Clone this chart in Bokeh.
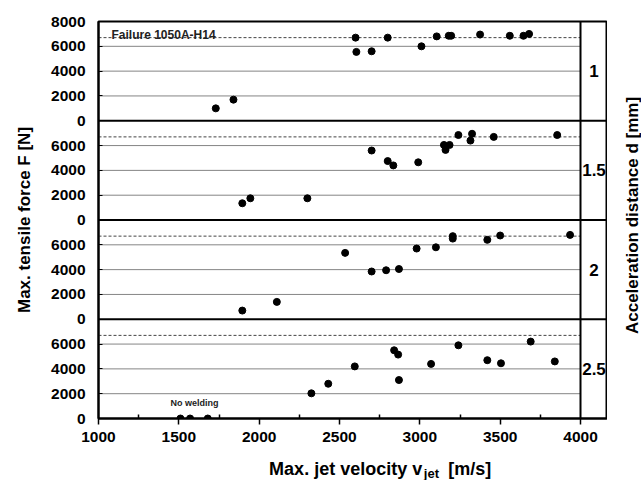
import math
from bokeh.plotting import figure
from bokeh.layouts import column, row
from bokeh.models import (ColumnDataSource, FixedTicker, Range1d, Span, Label)
from bokeh.core.properties import value
from bokeh.embed import file_html
from bokeh.resources import INLINE

# ---------------- data ----------------
distances = ["1", "1.5", "2", "2.5"]          # acceleration distance d [mm], top to bottom
panel_offsets = [24000, 16000, 8000, 0]        # stacking of panels on one axis
panel_span = 8000

v_d1 = [1730, 1840, 2600, 2605, 2700, 2800, 3010, 3105, 3180, 3195, 3375, 3560, 3645, 3680]
F_d1 = [1000, 1700, 6700, 5550, 5600, 6700, 6000, 6800, 6850, 6850, 6950, 6850, 6850, 7000]

v_d15 = [1895, 1945, 2300, 2700, 2800, 2835, 2990, 3150, 3160, 3185, 3240, 3315, 3325, 3460, 3855]
F_d15 = [1350, 1750, 1750, 5600, 4750, 4400, 4650, 6050, 5650, 6050, 6850, 6400, 6950, 6700, 6850]

v_d2 = [1895, 2110, 2535, 2700, 2790, 2870, 2980, 3100, 3205, 3205, 3420, 3500, 3935]
F_d2 = [700, 1400, 5350, 3850, 3950, 4050, 5700, 5800, 6700, 6500, 6400, 6750, 6800]

v_d25 = [1510, 1570, 1680, 2325, 2430, 2595, 2840, 2865, 2870, 3070, 3240, 3420, 3505, 3690, 3840]
F_d25 = [0, 0, 0, 2030, 2800, 4200, 5500, 5150, 3100, 4400, 5900, 4700, 4450, 6200, 4600]

failure_F = 6700                 # Failure 1050A-H14
x_ticks = [1000, 1500, 2000, 2500, 3000, 3500, 4000]
x_minor = [1250, 1750, 2250, 2750, 3250, 3750]
y_panel_ticks = [0, 2000, 4000, 6000]
grid_vals = [2000, 4000, 6000]

series_v = [v_d1, v_d15, v_d2, v_d25]
series_F = [F_d1, F_d15, F_d2, F_d25]

x_title_parts = ["Max. jet velocity v", "jet", "[m/s]"]
y_title = "Max. tensile force F [N]"
y2_title = "Acceleration distance d [mm]"

# ---------------- main figure ----------------
FONT = "Liberation Sans"
x_min, x_max = 1000, 4000
strip_end = 4168

p = figure(width=607, height=448, output_backend="svg", toolbar_location=None,
           x_range=Range1d(x_min, strip_end), y_range=Range1d(0, 4 * panel_span),
           min_border_left=98, min_border_right=0, min_border_top=21, min_border_bottom=30)
p.title.visible = False
p.background_fill_color = "white"
p.border_fill_color = "white"
p.outline_line_color = "black"
p.outline_line_width = 2
p.xgrid.grid_line_color = None
p.ygrid.grid_line_color = None

# x axis
p.xaxis.ticker = FixedTicker(ticks=x_ticks, minor_ticks=x_minor)
p.xaxis.axis_line_width = 2
p.xaxis.major_tick_out = 6
p.xaxis.major_tick_in = 0
p.xaxis.major_tick_line_width = 1.5
p.xaxis.minor_tick_in = 4
p.xaxis.minor_tick_out = 0
p.xaxis.minor_tick_line_width = 1.5
p.xaxis.major_label_standoff = 7
p.xaxis.major_label_text_font = FONT
p.xaxis.major_label_text_font_style = "bold"
p.xaxis.major_label_text_font_size = "15.5px"
p.xaxis.major_label_text_color = "black"

# y axis (stacked panels)
y_ticks = []
overrides = {}
for off in panel_offsets:
    for tv in y_panel_ticks:
        y_ticks.append(off + tv)
        overrides[off + tv] = str(tv)
y_ticks.append(4 * panel_span)
overrides[4 * panel_span] = str(panel_span)
p.yaxis.ticker = FixedTicker(ticks=y_ticks, minor_ticks=[])
p.yaxis.major_label_overrides = overrides
p.yaxis.axis_line_width = 2
p.yaxis.major_tick_in = 4
p.yaxis.major_tick_out = 0
p.yaxis.major_label_standoff = 13
p.yaxis.major_label_text_font = FONT
p.yaxis.major_label_text_font_style = "bold"
p.yaxis.major_label_text_font_size = "15.5px"
p.yaxis.major_label_text_color = "black"
p.yaxis.axis_label = y_title
p.yaxis.axis_label_text_font = FONT
p.yaxis.axis_label_text_font_style = "bold"
p.yaxis.axis_label_text_font_size = "17px"
p.yaxis.axis_label_text_color = "black"
p.yaxis.axis_label_standoff = 14

# gridlines, failure lines, panel borders
gx0, gx1, gy, fx0, fx1, fy = [], [], [], [], [], []
for off in panel_offsets:
    for g in grid_vals:
        gx0.append(x_min); gx1.append(x_max); gy.append(off + g)
    fx0.append(x_min); fx1.append(x_max); fy.append(off + failure_F)
p.segment(x0=gx0, x1=gx1, y0=gy, y1=gy, line_color="#858585", line_width=1)
p.segment(x0=fx0, x1=fx1, y0=fy, y1=fy, line_color="#444444", line_width=1, line_dash="3 2")

for off in panel_offsets[:-1]:
    p.add_layout(Span(location=off, dimension="width", line_color="black", line_width=2))
p.add_layout(Span(location=x_max, dimension="height", line_color="black", line_width=2))

# data points
for off, vs, Fs in zip(panel_offsets, series_v, series_F):
    src = ColumnDataSource(dict(x=vs, y=[f + off for f in Fs]))
    p.scatter("x", "y", source=src, size=7, fill_color="black", line_color="black")

# strip labels (acceleration distance)
strip_src = ColumnDataSource(dict(x=[(x_max + strip_end) / 2] * 4,
                                  y=[off + panel_span / 2 for off in panel_offsets],
                                  t=distances))
p.text("x", "y", text="t", source=strip_src, text_align="center", text_baseline="middle",
       text_font=value(FONT), text_font_style="bold", text_font_size="17px", text_color="black")

# annotations inside plot
p.add_layout(Label(x=1081, y=panel_offsets[0] + 6890, text="Failure 1050A-H14",
                   text_font=FONT, text_font_style="bold", text_font_size="12px",
                   text_baseline="alphabetic", text_align="left", text_color="#222222"))
p.add_layout(Label(x=1597, y=panel_offsets[3] + 1243, text="No welding",
                   text_font=FONT, text_font_style="bold", text_font_size="9px",
                   text_baseline="middle", text_align="center", text_color="#222222"))


def title_strip(w, h):
    f = figure(width=w, height=h, output_backend="svg", toolbar_location=None,
               x_range=Range1d(0, w), y_range=Range1d(0, h), title=None,
               x_axis_location=None, y_axis_location=None,
               min_border=0, min_border_left=0, min_border_right=0,
               min_border_top=0, min_border_bottom=0)
    f.grid.visible = False
    f.outline_line_color = None
    return f


# ---------------- x-axis title strip (with subscript) ----------------
t = title_strip(607, 32)
t.text(x=[386], y=[12], text=[x_title_parts[0]], text_align="right", text_baseline="alphabetic",
       text_font=value(FONT), text_font_style="bold", text_font_size="18px", text_color="black")
t.text(x=[388], y=[7.5], text=[x_title_parts[1]], text_align="left", text_baseline="alphabetic",
       text_font=value(FONT), text_font_style="bold", text_font_size="13px", text_color="black")
t.text(x=[417], y=[12], text=[x_title_parts[2]], text_align="left", text_baseline="alphabetic",
       text_font=value(FONT), text_font_style="bold", text_font_size="18px", text_color="black")

# ---------------- right title strip ----------------
r = title_strip(34, 480)
r.text(x=[25], y=[265], text=[y2_title], angle=math.pi / 2, text_align="center",
       text_baseline="middle", text_font=value(FONT), text_font_style="bold",
       text_font_size="17px", text_color="black")

layout = row(column(p, t, spacing=0), r, spacing=0)
open("out.html", "w").write(file_html(layout, INLINE))
